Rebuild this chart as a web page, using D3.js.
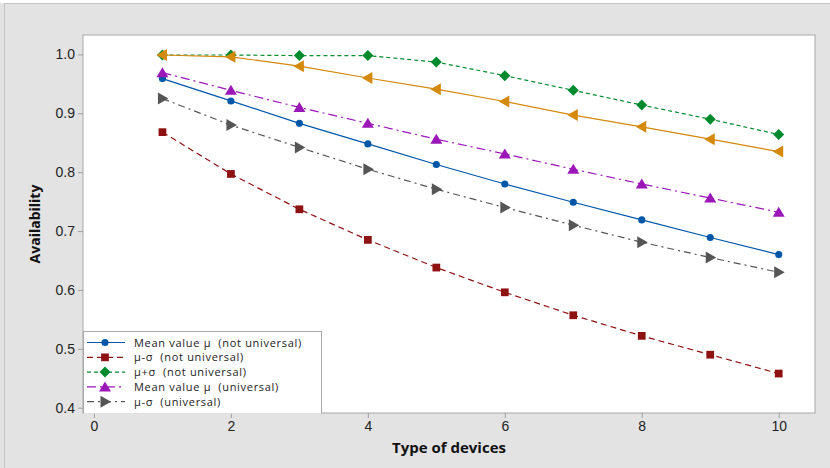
<!DOCTYPE html>
<html>
<head>
<meta charset="utf-8">
<script src="https://cdn.jsdelivr.net/npm/d3@7"></script>
<style>
  body { margin: 0; background: #e3e3e3; }
  svg { display: block; font-family: "Open Sans", "DejaVu Sans", sans-serif; }
</style>
</head>
<body>
<svg id="chart"></svg>
<script>
(function () {
var devices = [1, 2, 3, 4, 5, 6, 7, 8, 9, 10]

var meanNotUni = [0.959, 0.921, 0.883, 0.848, 0.813, 0.780, 0.749, 0.719, 0.689, 0.660]
var minusNotUni = [0.868, 0.797, 0.737, 0.685, 0.638, 0.596, 0.557, 0.522, 0.490, 0.458]
var plusNotUni = [0.999, 0.999, 0.998, 0.998, 0.987, 0.964, 0.939, 0.914, 0.890, 0.864]
var meanUni = [0.969, 0.939, 0.910, 0.883, 0.856, 0.831, 0.805, 0.780, 0.756, 0.732]
var minusUni = [0.925, 0.880, 0.842, 0.805, 0.771, 0.740, 0.710, 0.681, 0.655, 0.630]
var plusUni = [0.999, 0.996, 0.980, 0.960, 0.941, 0.920, 0.897, 0.877, 0.856, 0.835]

var xTicks = [0, 2, 4, 6, 8, 10]
var yTicks = [0.4, 0.5, 0.6, 0.7, 0.8, 0.9, 1.0]

var W = 830, H = 468
var left = 83, right = 815, top = 35, bottom = 413

var svg = d3.select('#chart').attr('width', W).attr('height', H)

svg.append('rect').attr('width', W).attr('height', H).attr('fill', '#e3e3e3')
svg.append('rect').attr('width', W).attr('height', 3).attr('fill', '#ffffff')
svg.append('line').attr('x1', 4.5).attr('x2', 4.5).attr('y1', 3).attr('y2', H).attr('stroke', '#c4c4c4')
svg.append('line').attr('x1', 4).attr('x2', W).attr('y1', 3.5).attr('y2', 3.5).attr('stroke', '#c4c4c4')

var x = d3.scaleLinear().domain([-0.16, 10.53]).range([left, right])
var y = d3.scaleLinear().domain([0.391, 1.033]).range([bottom, top])

svg.append('rect')
    .attr('x', left).attr('y', top)
    .attr('width', right - left).attr('height', bottom - top)
    .attr('fill', '#ffffff').attr('stroke', '#a8a8a8')

var series = [
    {name: 'Mean value μ  (not universal)', values: meanNotUni, color: '#0057a8', dash: null, symbol: 'circle'},
    {name: 'μ-σ  (not universal)', values: minusNotUni, color: '#8e1212', dash: '6,4', symbol: 'square'},
    {name: 'μ+σ  (not universal)', values: plusNotUni, color: '#008a2e', dash: '4,3', symbol: 'diamond'},
    {name: 'Mean value μ  (universal)', values: meanUni, color: '#9b17b8', dash: '9,4,2,4', symbol: 'up'},
    {name: 'μ-σ  (universal)', values: minusUni, color: '#555555', dash: '7,4,2,4', symbol: 'rightTri'},
    {name: 'μ+σ  (universal)', values: plusUni, color: '#d4880c', dash: null, symbol: 'leftTri'}
]

var markPath = function (sym) {
    if (sym == 'circle') return d3.symbol(d3.symbolCircle, 40)()
    if (sym == 'square') return d3.symbol(d3.symbolSquare, 60)()
    if (sym == 'diamond') return 'M0,-5.5L5.5,0L0,5.5L-5.5,0Z'
    if (sym == 'up') return 'M0,-5.5L6,4.5L-6,4.5Z'
    if (sym == 'rightTri') return 'M-4.5,-6L6,0L-4.5,6Z'
    return 'M4.5,-6L-6,0L4.5,6Z'
}

var line = d3.line().x((d, i) => x(devices[i])).y(d => y(d))

var plot = svg.append('g')
series.forEach(function (s) {
    plot.append('path')
        .attr('d', line(s.values))
        .attr('fill', 'none')
        .attr('stroke', s.color)
        .attr('stroke-width', 1.2)
        .attr('stroke-dasharray', s.dash)
    plot.selectAll(null)
        .data(s.values)
        .enter()
        .append('path')
        .attr('transform', (d, i) => 'translate(' + x(devices[i]) + ',' + y(d) + ')')
        .attr('d', markPath(s.symbol))
        .attr('fill', s.color)
})

// axes
var xAxis = svg.append('g')
    .attr('transform', 'translate(0,' + bottom + ')')
    .call(d3.axisBottom(x).tickValues(xTicks).tickSize(5).tickPadding(3).tickFormat(d3.format('d')))
var yAxis = svg.append('g')
    .attr('transform', 'translate(' + left + ',0)')
    .call(d3.axisLeft(y).tickValues(yTicks).tickSize(5).tickPadding(3).tickFormat(d3.format('.1f')))
;[xAxis, yAxis].forEach(function (a) {
    a.select('.domain').remove()
    a.selectAll('line').attr('stroke', '#a0a0a0')
    a.selectAll('text').attr('fill', '#222').style('font-size', '14px')
})

svg.append('text')
    .attr('x', (left + right) / 2).attr('y', 453)
    .attr('text-anchor', 'middle')
    .style('font-size', '15px').style('font-weight', 'bold').attr('fill', '#111')
    .text('Type of devices')
svg.append('text')
    .attr('transform', 'translate(40,' + ((top + bottom) / 2) + ') rotate(-90)')
    .attr('text-anchor', 'middle')
    .style('font-size', '14px').style('font-weight', 'bold').attr('fill', '#111')
    .text('Availability')

// legend, clipped by the bottom of the plot
svg.append('clipPath').attr('id', 'legclip')
    .append('rect').attr('x', left).attr('y', top).attr('width', right - left).attr('height', bottom - top + 0.5)
var leg = svg.append('g').attr('clip-path', 'url(#legclip)')
leg.append('rect')
    .attr('x', left + 0.5).attr('y', 331.5)
    .attr('width', 238).attr('height', 95)
    .attr('fill', '#ffffff').attr('stroke', '#a8a8a8')
series.slice(0, 5).forEach(function (s, i) {
    var ly = 342.5 + i * 14.8
    leg.append('line')
        .attr('x1', 87).attr('x2', 125).attr('y1', ly).attr('y2', ly)
        .attr('stroke', s.color).attr('stroke-width', 1.2)
        .attr('stroke-dasharray', s.dash)
    leg.append('path')
        .attr('transform', 'translate(105,' + ly + ')')
        .attr('d', markPath(s.symbol))
        .attr('fill', s.color)
    leg.append('text')
        .attr('x', 134).attr('y', ly + 4)
        .style('font-size', '11px').style('white-space', 'pre').style('letter-spacing', '0.7px')
        .attr('fill', '#222')
        .text(s.name)
})
})();
</script>
</body>
</html>
